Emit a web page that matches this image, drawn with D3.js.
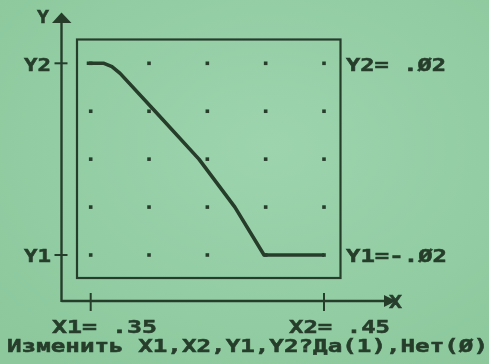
<!DOCTYPE html>
<html>
<head>
<meta charset="utf-8">
<script src="https://cdn.jsdelivr.net/npm/d3@7"></script>
<style>
  html, body { margin: 0; padding: 0; background: #96cfa7; }
  svg { display: block; }
  text { font-family: "DejaVu Sans Mono", monospace; font-weight: bold; fill: #263d2c; stroke: #263d2c; stroke-width: 0.5; }
</style>
</head>
<body>
<svg id="chart" width="489" height="364"></svg>
<script>
// Window limits of the plot
const xLimits = [0.35, 0.45];
const yLimits = [-0.02, 0.02];

// Grid dot positions
const gridX = [0.35, 0.375, 0.4, 0.425, 0.45];
const gridY = [-0.02, -0.01, 0, 0.01, 0.02];

// Transfer curve
const curveX = [0.3483, 0.3557, 0.3591, 0.3626, 0.3776, 0.3964, 0.4118, 0.4243, 0.4500];
const curveY = [0.0200, 0.0200, 0.0193, 0.0179, 0.0100, 0.0000, -0.0100, -0.0200, -0.0200];

// Texts
const axisNames = ["X", "Y"];
const promptText = "Изменить X1,X2,Y1,Y2?Да(1),Нет(0)";

const ink = "#263d2c";
const svg = d3.select("#chart");

// soft screen background
const defs = svg.append("defs");
const grad = defs.append("radialGradient").attr("id", "bg").attr("cx", "55%").attr("cy", "40%").attr("r", "75%");
grad.append("stop").attr("offset", "0%").attr("stop-color", "#9dd4ae");
grad.append("stop").attr("offset", "100%").attr("stop-color", "#8cc89c");
defs.append("filter").attr("id", "soft").append("feGaussianBlur").attr("stdDeviation", 0.45);
svg.append("rect").attr("width", 489).attr("height", 364).attr("fill", "url(#bg)");

const g = svg.append("g").attr("filter", "url(#soft)");

const x = d3.scaleLinear().domain(xLimits).range([90.7, 324]);
const y = d3.scaleLinear().domain(yLimits).range([255, 63.3]);

const zeroSlash = s => s.replace(/0/g, "Ø");
const fmt = v => zeroSlash((v < 0 ? "-" : " ") + d3.format(".2f")(Math.abs(v)).replace(/^0/, ""));

// axes
const axisX0 = 61.5, axisY0 = 301;
g.append("line").attr("x1", axisX0).attr("x2", axisX0).attr("y1", 20).attr("y2", axisY0 + 1)
  .attr("stroke", ink).attr("stroke-width", 2.4);
g.append("line").attr("x1", axisX0).attr("x2", 384).attr("y1", axisY0).attr("y2", axisY0)
  .attr("stroke", ink).attr("stroke-width", 2.4);
g.append("path").attr("d", `M${axisX0},12.5 L${axisX0 - 9.5},23 L${axisX0 + 10},23 Z`).attr("fill", ink);
g.append("path").attr("d", `M396,${axisY0} L384,${axisY0 - 6} L384,${axisY0 + 6} Z`).attr("fill", ink);

// tick crosses
g.selectAll(".xt").data(xLimits).join("line")
  .attr("x1", d => x(d)).attr("x2", d => x(d)).attr("y1", axisY0 - 8).attr("y2", axisY0 + 10)
  .attr("stroke", ink).attr("stroke-width", 2);
g.selectAll(".yt").data(yLimits).join("line")
  .attr("x1", axisX0 - 7).attr("x2", axisX0 + 6).attr("y1", d => y(d)).attr("y2", d => y(d))
  .attr("stroke", ink).attr("stroke-width", 2);

// plot frame
g.append("rect").attr("x", 77).attr("y", 39.5).attr("width", 263.5).attr("height", 238.5)
  .attr("fill", "none").attr("stroke", ink).attr("stroke-width", 2.2);

// grid dots
const dots = [];
gridY.forEach(gy => gridX.forEach(gx => dots.push([gx, gy])));
g.selectAll(".dot").data(dots).join("rect")
  .attr("x", d => x(d[0]) - 1.8).attr("y", d => y(d[1]) - 1.8)
  .attr("width", 3.6).attr("height", 3.6).attr("fill", ink);

// curve
const pts = curveX.map((v, i) => [v, curveY[i]]);
g.append("path").datum(pts)
  .attr("d", d3.line().x(d => x(d[0])).y(d => y(d[1])))
  .attr("fill", "none").attr("stroke", ink).attr("stroke-width", 3.6)
  .attr("stroke-linejoin", "round");

// labels
function label(txt, x0, base, w) {
  g.append("text").attr("x", x0).attr("y", base).attr("font-size", 17)
    .attr("textLength", w).attr("lengthAdjust", "spacingAndGlyphs").text(txt);
}
label(axisNames[1], 37, 22.5, 12);
label(axisNames[0], 389, 308, 13);
label("Y2", 24, 70.5, 27);
label("Y1", 24, 262, 27);
label("Y2=" + fmt(yLimits[1]), 346, 70.5, 100);
label("Y1=" + fmt(yLimits[0]), 346, 262, 101);
label("X1=" + fmt(xLimits[0]), 52, 333, 105);
label("X2=" + fmt(xLimits[1]), 289, 333, 101);
label(zeroSlash(promptText), 7, 352, 481);
</script>
</body>
</html>
